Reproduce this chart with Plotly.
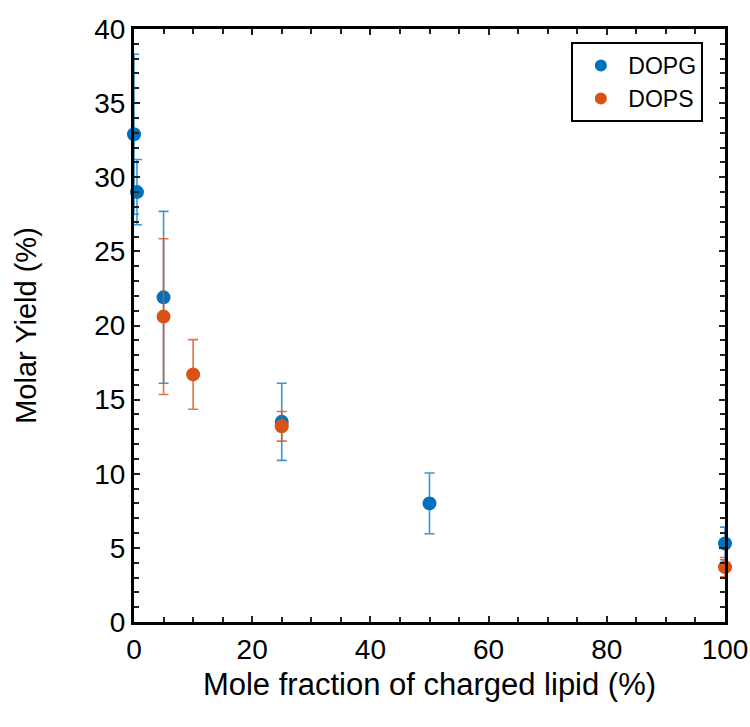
import plotly.graph_objects as go

dopg_x = [0, 0.5, 5, 25, 50, 100]
dopg_y = [32.9, 29.0, 21.9, 13.5, 8.0, 5.3]
dopg_err = [5.4, 2.2, 5.8, 2.6, 2.05, 1.1]

dops_x = [5, 10, 25, 100]
dops_y = [20.6, 16.7, 13.2, 3.7]
dops_err = [5.25, 2.35, 1.0, 0.65]

font_family = "Liberation Sans, Arial, sans-serif"

fig = go.Figure()
fig.add_trace(go.Scatter(
    x=dopg_x, y=dopg_y, mode="markers", name="DOPG",
    marker=dict(color="#0072BD", size=14),
    error_y=dict(type="data", array=dopg_err, visible=True,
                 color="rgba(0,114,189,0.75)", thickness=1.6, width=5),
    cliponaxis=False,
))
fig.add_trace(go.Scatter(
    x=dops_x, y=dops_y, mode="markers", name="DOPS",
    marker=dict(color="#D95319", size=14),
    error_y=dict(type="data", array=dops_err, visible=True,
                 color="rgba(217,83,25,0.8)", thickness=1.6, width=5),
    cliponaxis=False,
))

axis_common = dict(
    showline=True, linecolor="black", linewidth=3, mirror="ticks",
    ticks="inside", ticklen=6, tickwidth=2, tickcolor="#222",
    showgrid=False, zeroline=False, automargin=False,
    ticklabeloverflow="allow",
    tickfont=dict(family=font_family, size=28, color="black"),
)

fig.update_xaxes(
    range=[0, 100], tickvals=[0, 20, 40, 60, 80, 100],
    minor=dict(ticks="inside", dtick=5, ticklen=5, tickwidth=2, tickcolor="#222"),
    title=dict(text="Mole fraction of charged lipid (%)",
               font=dict(family=font_family, size=31, color="black"), standoff=10),
    **axis_common,
)
fig.update_yaxes(
    range=[0, 40], tickvals=[0, 5, 10, 15, 20, 25, 30, 35, 40],
    minor=dict(ticks="inside", dtick=1, ticklen=5, tickwidth=2, tickcolor="#222"),
    title=dict(text="Molar Yield (%)",
               font=dict(family=font_family, size=29, color="black"), standoff=50),
    **axis_common,
)

fig.update_layout(
    width=750, height=727,
    margin=dict(l=134, r=25, t=29, b=105),
    paper_bgcolor="white", plot_bgcolor="white",
    showlegend=True,
    legend=dict(x=0.74, y=0.978, xanchor="left", yanchor="top",
                bordercolor="black", borderwidth=2, bgcolor="white",
                font=dict(family=font_family, size=23, color="black"),
                itemsizing="constant", itemwidth=45),
)

fig.write_html("out.html")
